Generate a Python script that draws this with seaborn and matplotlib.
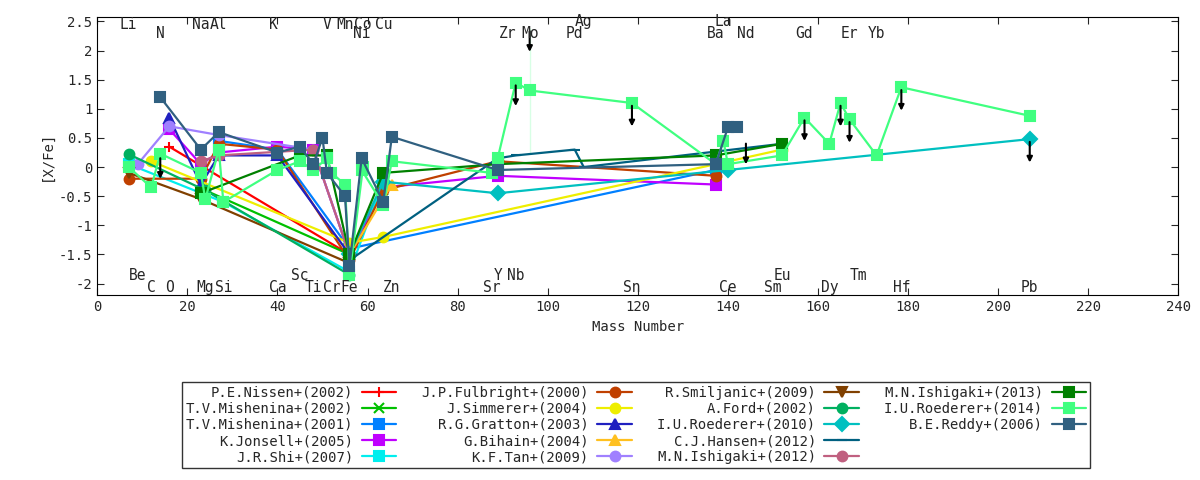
import numpy as np
import pandas as pd
import seaborn as sns
import matplotlib
matplotlib.use("Agg")
from matplotlib import pyplot as plt
from matplotlib.lines import Line2D

# element labels: symbol, mass number, label height
elem_sym = ["Li", "N", "Na", "Al", "K", "V", "Mn", "Co", "Cu", "Ni", "Zr", "Mo", "Pd", "Ag", "La", "Ba", "Nd",
            "Gd", "Er", "Yb",
            "Be", "C", "O", "Mg", "Si", "Ca", "Sc", "Ti", "Cr", "Fe", "Zn", "Y", "Nb", "Sr", "Sn", "Ce", "Eu", "Sm",
            "Dy", "Tm", "Hf", "Pb"]
elem_mass = [7, 14, 23, 27, 39, 51, 55, 59, 63.5, 58.7, 91.2, 96, 106, 108, 139, 137.3, 144,
             157, 167, 173,
             9, 12, 16, 24, 28, 40, 45, 48, 52, 56, 65.4, 88.9, 92.9, 87.6, 118.7, 140, 152, 150,
             162.5, 169, 178.5, 207]
elem_y = [2.45, 2.3, 2.45, 2.45, 2.45, 2.45, 2.45, 2.45, 2.45, 2.3, 2.3, 2.3, 2.3, 2.5, 2.5, 2.3, 2.3,
          2.3, 2.3, 2.3,
          -1.86, -2.06, -2.06, -2.06, -2.06, -2.06, -1.86, -2.06, -2.06, -2.06, -2.06, -1.86, -1.86, -2.06,
          -2.06, -2.06, -1.86, -2.06, -2.06, -1.86, -2.06, -2.06]

labels = ["P.E.Nissen+(2002)", "T.V.Mishenina+(2002)", "T.V.Mishenina+(2001)", "K.Jonsell+(2005)", "J.R.Shi+(2007)",
          "J.P.Fulbright+(2000)", "J.Simmerer+(2004)", "R.G.Gratton+(2003)", "G.Bihain+(2004)", "K.F.Tan+(2009)",
          "R.Smiljanic+(2009)", "A.Ford+(2002)", "I.U.Roederer+(2010)", "C.J.Hansen+(2012)", "M.N.Ishigaki+(2012)",
          "M.N.Ishigaki+(2013)", "I.U.Roederer+(2014)", "B.E.Reddy+(2006)"]
colors = ["#ff0000", "#00c000", "#0080ff", "#c000ff", "#00eeee", "#c04000", "#eeee00", "#2020c0", "#ffc020",
          "#a080ff", "#804000", "#00b060", "#00c0c0", "#006080", "#c06080", "#008000", "#40ff80", "#306080"]
markers = ["+", "x", "s", "s", "s", "o", "o", "^", "^", "o", "v", "o", "D", "_", "o", "s", "s", "s"]

mass = [
    [16, 56],
    [24, 56, 63.5],
    [27, 40, 56, 137.3],
    [16, 23, 27, 40, 48, 56, 63.5, 88.9, 137.3],
    [7, 28, 56, 63.5],
    [7, 23, 27, 40, 56, 63.5, 88.9, 137.3],
    [12, 56, 63.5, 137.3, 152],
    [16, 23, 27, 40, 56],
    [56, 65.4],
    [9, 16, 27, 48, 56],
    [7, 23, 56],
    [7, 24, 56],
    [56, 63.5, 88.9, 140, 207],
    [56, 88.9, 92.9, 106, 108, 152],
    [23, 27, 48, 56],
    [23, 45, 51, 56, 63.5, 88.9, 137.3, 152],
    [7, 12, 14, 23, 24, 27, 28, 40, 45, 48, 51, 52, 55, 56, 59, 58.7, 63.5, 65.4, 87.6, 88.9, 92.9, 96, 96, 118.7,
     137.3, 139, 140, 152, 157, 162.5, 165, 167, 173, 178.5, 207],
    [14, 23, 27, 40, 45, 48, 50, 51, 55, 56, 58.7, 63.5, 65.4, 88.9, 137.3, 140, 142],
]
xfe = [
    [0.35, -1.5],
    [-0.4, -1.5, -0.4],
    [0.45, 0.3, -1.4, -0.05],
    [0.65, 0.05, 0.25, 0.35, 0.3, -1.5, -0.35, -0.15, -0.3],
    [0.05, -0.6, -1.8, -0.25],
    [-0.2, -0.2, 0.4, 0.3, -1.6, -0.4, 0.1, -0.15],
    [0.1, -1.3, -1.2, 0.05, 0.3],
    [0.85, -0.3, 0.2, 0.2, -1.5],
    [-1.5, -0.3],
    [0.05, 0.7, 0.55, 0.3, -1.5],
    [-0.1, -0.55, -1.65],
    [0.22, -0.4, -1.85],
    [-1.5, -0.25, -0.45, -0.05, 0.48],
    [-1.6, 0.15, 0.2, 0.3, 0.0, 0.4],
    [0.1, 0.2, 0.3, -1.5],
    [-0.45, 0.2, 0.2, -1.5, -0.1, 0.05, 0.2, 0.4],
    [0.0, -0.35, 0.23, -0.1, -0.55, 0.3, -0.6, -0.05, 0.1, -0.05, 0.15, -0.1, -0.3, -1.85, 0.0, -0.05, -0.65,
     0.1, -0.1, 0.15, 1.45, 0.25, 2.38, 1.1, 0.05, 0.45, 0.05, 0.2, 0.85, 0.4, 1.1, 0.82, 0.2, 1.37, 0.88],
    [1.2, 0.3, 0.6, 0.25, 0.35, 0.05, 0.5, -0.1, -0.5, -1.7, 0.15, -0.6, 0.52, -0.05, 0.05, 0.68, 0.68],
]

# upper limits (arrows)
lim_mass = [14, 92.9, 96, 118.7, 144, 157, 165, 167, 178.5, 207]
lim_y = [0.2, 1.45, 2.38, 1.1, 0.45, 0.85, 1.1, 0.82, 1.37, 0.48]


def main():
    sns.set_style("ticks")
    plt.rcParams['font.family'] = ['DejaVu Sans Mono']
    plt.rcParams['font.size'] = 10
    fig = plt.figure(figsize=(12, 4.8), dpi=100)
    ax = fig.add_axes([0.081, 0.385, 0.901, 0.58])

    for lab, c, m, xs, ys in zip(labels, colors, markers, mass, xfe):
        df = pd.DataFrame({"mass": xs, "xfe": ys})
        sns.lineplot(data=df, x="mass", y="xfe", sort=False, color=c, marker=m, markersize=7,
                     markeredgecolor=c, markeredgewidth=1.5, linewidth=1.6, label=lab, ax=ax)

    for x, y in zip(lim_mass, lim_y):
        ax.annotate("", xy=(x, y - 0.45), xytext=(x, y),
                    arrowprops=dict(arrowstyle="-|>", color="black", lw=1.5, mutation_scale=8))

    for s, x, y in zip(elem_sym, elem_mass, elem_y):
        ax.text(x, y, s, ha="center", va="center", fontsize=10.5)

    ax.set_xlim(0, 240)
    ax.set_ylim(-2.2, 2.58)
    ax.set_xticks(np.arange(0, 241, 20))
    ax.set_yticks([-2, -1.5, -1, -0.5, 0, 0.5, 1, 1.5, 2, 2.5])
    ax.set_yticklabels(["-2", "-1.5", "-1", "-0.5", "0", "0.5", "1", "1.5", "2", "2.5"])
    ax.tick_params(direction="in", top=True, right=True, length=5)
    ax.set_xlabel("Mass Number")
    ax.set_ylabel("[X/Fe]")
    for sp in ax.spines.values():
        sp.set_color("black")

    h, l = ax.get_legend_handles_labels()
    ax.get_legend().remove()
    # two blank entries so the columns fill 5,5,5,3 as in the reference
    blank = Line2D([], [], linestyle="none")
    h = h + [blank, blank]
    l = l + ["", ""]
    fig.legend(h, l, ncol=4, loc="lower center", bbox_to_anchor=(0.53, 0.01), markerfirst=False,
               frameon=True, fancybox=False, edgecolor="black", handlelength=2.5, columnspacing=1.8,
               labelspacing=0.15, fontsize=10, borderpad=0.3, handletextpad=0.6)
    fig.savefig("out.png")


if __name__ == '__main__':
    main()
